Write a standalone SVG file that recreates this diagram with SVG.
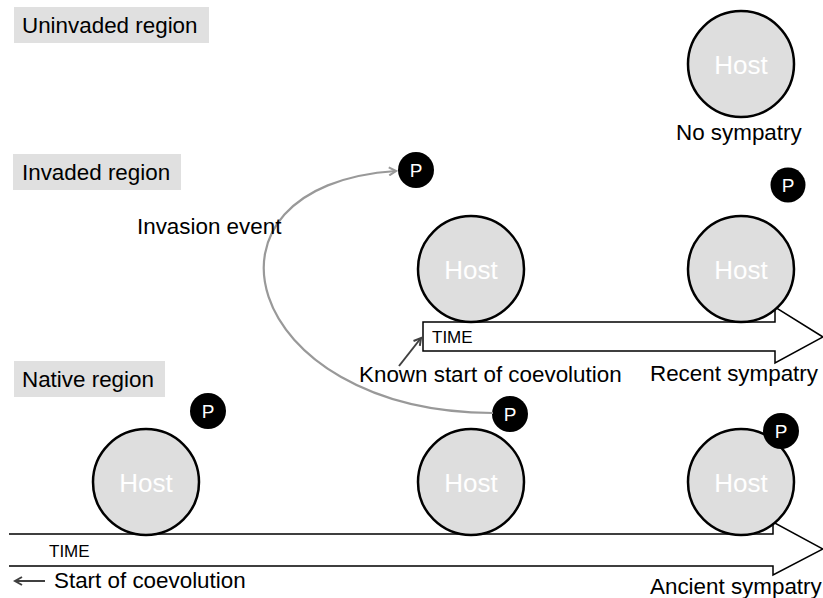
<svg xmlns="http://www.w3.org/2000/svg" width="823" height="598" viewBox="0 0 823 598">
<style>
text{font-family:"Liberation Sans",Arial,sans-serif;}
.lbl{fill:#e0e0e0;}
.lt{font-size:22.4px;fill:#000;}
.host{fill:#dedede;stroke:#000;stroke-width:2.5;}
.ht{font-size:26px;fill:#fff;text-anchor:middle;}
.p{fill:#000;}
.pt{font-size:19px;fill:#fff;text-anchor:middle;}
.cap{font-size:22.4px;fill:#000;}
.arrow{fill:#fff;stroke:#000;stroke-width:1.5;}
.time{font-size:17px;fill:#000;}
</style>
<defs>
<marker id="ag" markerWidth="10" markerHeight="10" refX="8" refY="5" orient="auto" markerUnits="userSpaceOnUse">
<path d="M1,1 L8,5 L1,9" fill="none" stroke="#999" stroke-width="2"/>
</marker>
<marker id="ad" markerWidth="10" markerHeight="10" refX="8" refY="5" orient="auto" markerUnits="userSpaceOnUse">
<path d="M1,1 L8,5 L1,9" fill="none" stroke="#404040" stroke-width="2"/>
</marker>
</defs>
<g id="labels">
<rect class="lbl" x="14" y="7" width="195" height="36"/>
<text class="lt" x="22" y="33">Uninvaded region</text>
<rect class="lbl" x="13" y="154" width="168" height="36"/>
<text class="lt" x="22" y="180">Invaded region</text>
<rect class="lbl" x="14" y="361" width="151" height="36"/>
<text class="lt" x="22" y="387">Native region</text>
</g>
<g id="time-arrows">
<path class="arrow" d="M423,322 L775,322 L775,307 L823,337 L775,363 L775,351 L423,351 Z"/>
<text class="time" x="432" y="343">TIME</text>
<path class="arrow" d="M0,534 L773,534 L773,522 L823,549 L773,575 L773,566 L0,566"/>
<path d="M0,534 L9,534 M0,566 L9,566" stroke="#fff" stroke-width="3"/>
<text class="time" x="49" y="557">TIME</text>
</g>
<g id="host-uninvaded"><circle class="host" cx="741" cy="64" r="53"/><text class="ht" x="741" y="74">Host</text></g>
<g id="host-invaded-1"><circle class="host" cx="471" cy="269" r="53"/><text class="ht" x="471" y="279">Host</text></g>
<g id="host-invaded-2"><circle class="host" cx="741" cy="269" r="53"/><text class="ht" x="741" y="279">Host</text></g>
<g id="host-native-1"><circle class="host" cx="146" cy="482" r="53"/><text class="ht" x="146" y="492">Host</text></g>
<g id="host-native-2"><circle class="host" cx="471" cy="482" r="53"/><text class="ht" x="471" y="492">Host</text></g>
<g id="host-native-3"><circle class="host" cx="741" cy="482" r="53"/><text class="ht" x="741" y="492">Host</text></g>
<g id="p-invaded-1"><circle class="p" cx="416" cy="170" r="18"/><text class="pt" x="416" y="177">P</text></g>
<g id="p-invaded-2"><circle class="p" cx="788" cy="185" r="17.5"/><text class="pt" x="788" y="192">P</text></g>
<g id="p-native-1"><circle class="p" cx="208" cy="411" r="18"/><text class="pt" x="208" y="418">P</text></g>
<g id="p-native-2"><circle class="p" cx="510" cy="414" r="18"/><text class="pt" x="510" y="421">P</text></g>
<g id="p-native-3"><circle class="p" cx="781" cy="431" r="18"/><text class="pt" x="781" y="438">P</text></g>
<g id="connectors">
<path d="M493,413 C240,412 180,185 396,171" fill="none" stroke="#999" stroke-width="2.2" marker-end="url(#ag)"/>
<path d="M399,366 L421,338" fill="none" stroke="#404040" stroke-width="2" marker-end="url(#ad)"/>
<path d="M45,581 L15,581" fill="none" stroke="#404040" stroke-width="2" marker-end="url(#ad)"/>
</g>
<g id="captions">
<text class="cap" x="137" y="234">Invasion event</text>
<text class="cap" x="359" y="382">Known start of coevolution</text>
<text class="cap" x="676" y="140">No sympatry</text>
<text class="cap" x="650" y="381">Recent sympatry</text>
<text class="cap" x="650" y="594">Ancient sympatry</text>
<text class="cap" x="54" y="588">Start of coevolution</text>
</g>
</svg>
